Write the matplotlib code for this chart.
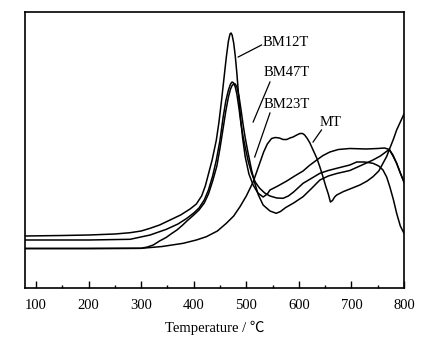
import matplotlib
matplotlib.use("Agg")
import matplotlib.pyplot as plt
from matplotlib.ticker import MultipleLocator

# ---- data (temperature in degC, signal in arbitrary units) ----
bm12t_T = [79, 150, 200, 250, 279, 300, 317, 335, 355, 375, 393, 405, 415, 422, 428, 435, 443, 448, 453, 458,
           462, 466, 469, 471, 473, 476, 479, 482, 485, 489, 493, 498, 505, 513, 522, 532, 540, 545, 560, 577,
           592, 608, 620, 634, 646, 659, 675, 697, 728, 750, 763, 772, 779, 786, 793, 800]
bm12t_y = [52, 52.5, 53, 54, 55.3, 57, 59.7, 63, 68, 73, 79, 84, 92, 102, 114, 128, 148, 166, 188, 212,
           231, 247, 254, 255, 253, 245, 232, 215, 195, 170, 150, 131, 114, 103, 95, 91, 94, 98, 102, 107,
           112, 117, 122.5, 128, 132.5, 136, 138.5, 139.5, 139, 139.5, 140, 138.5, 132, 124.7, 115, 106]

bm47t_T = [79, 200, 279, 317, 348, 370, 387, 400, 410, 420, 428, 436, 443, 450, 456, 461, 466, 470, 473, 476,
           479, 482, 486, 490, 494, 499, 504, 510, 517, 525, 535, 545, 558, 570, 580, 590, 608, 625, 640, 656,
           672, 697, 710, 725, 741, 752, 760, 767, 773, 780, 786, 793, 800]
bm47t_y = [48, 48, 48.7, 53, 58.7, 64, 69.7, 75, 80, 88, 98, 112, 128, 148, 171, 187, 198, 204, 206, 205,
           201, 194, 180, 164, 151, 138, 126, 115, 106, 100, 95, 92, 90, 89.7, 92, 96, 104.7, 110, 114.7, 117.5,
           119.7, 123, 126, 126, 124.7, 122, 118, 111, 101.3, 88, 74.7, 62, 54.7]

bm23t_T = [79, 200, 300, 312, 323, 335, 348, 358, 368, 378, 387, 400, 410, 420, 428, 436, 444, 450, 456, 461,
           466, 470, 473, 476, 479, 482, 486, 490, 494, 498, 503, 510, 516, 523, 532, 545, 557, 565, 575, 590,
           608, 625, 640, 656, 672, 697, 716, 741, 755, 766, 772, 779, 786, 793, 800]
bm23t_y = [39.5, 39.5, 39.7, 41, 43, 47, 50.7, 54.5, 58, 62.5, 67, 73, 78, 85, 94, 107, 122, 140, 160, 177,
           191, 199, 202.5, 204, 204, 201, 192, 178, 163, 150, 136, 118, 105, 93, 83, 77, 74.7, 76.5, 80.5, 85,
           91.3, 100, 108, 112, 114.5, 117.5, 122, 128, 132, 136.3, 138.5, 133, 124.7, 115, 106]

mt_T = [79, 200, 300, 340, 380, 405, 424, 445, 462, 476, 488, 500, 513, 525, 533, 540, 548, 555, 563, 570,
        577, 583, 589, 596, 602, 607, 611, 616, 621, 627, 634, 640, 646, 651, 656, 660, 664, 668, 672, 685,
        697, 716, 730, 741, 752, 760, 767, 773, 780, 786, 793, 800]
mt_y = [39.5, 39.5, 39.7, 41.5, 44.7, 48, 51.3, 57, 64.7, 72, 81.3, 92, 106, 124, 136, 144, 149.5, 150.5, 150, 148.5,
        148.5, 150, 151, 153, 154.5, 154.5, 153, 149.5, 145, 138, 130, 121, 111, 102, 94, 86, 87.5, 91, 93, 96.5,
        99, 103, 107, 111.3, 117, 124.7, 131.5, 139.7, 149, 158, 166, 174]

series = [("BM12T", bm12t_T, bm12t_y), ("BM47T", bm47t_T, bm47t_y),
          ("BM23T", bm23t_T, bm23t_y), ("MT", mt_T, mt_y)]

xticks = [100, 200, 300, 400, 500, 600, 700, 800]
xlabel = "Temperature / ℃"

serif = ["Liberation Serif", "Noto Sans CJK SC", "DejaVu Sans"]
plt.rcParams["font.family"] = serif

fig = plt.figure(figsize=(4.42, 3.46), dpi=100)
ax = fig.add_axes([25 / 442, (346 - 288) / 346, (404 - 25) / 442, (288 - 12) / 346])

for name, t, y in series:
    ax.plot(t, y, color="black", lw=1.1, solid_joinstyle="round")

# labels with leader lines (positions in data coords)
annots = [
    ("BM12T", (484.6, 231), (529, 243), (531.5, 246)),
    ("BM47T", (513, 166), (545, 206), (532, 215)),
    ("BM23T", (516, 131), (545, 175), (532, 183)),
    ("MT", (627, 146), (643, 158), (640, 166)),
]
for txt, p0, p1, tp in annots:
    ax.plot([p0[0], p1[0]], [p0[1], p1[1]], color="black", lw=0.9)
    ax.text(tp[0], tp[1], txt, fontsize=10.5, ha="left", va="center", color="black")

ax.set_xlim(79, 800)
ax.set_ylim(0, 276)
ax.set_xticks(xticks)
ax.xaxis.set_minor_locator(MultipleLocator(50))
ax.set_yticks([])
ax.tick_params(axis="x", which="major", direction="in", length=5, width=1, pad=8, labelsize=10.5)
ax.tick_params(axis="x", which="minor", direction="in", length=2.5, width=1)
for s in ax.spines.values():
    s.set_linewidth(1.2)
ax.set_xlabel(xlabel, fontsize=10.5, labelpad=6)

fig.savefig("out.png", dpi=100)
